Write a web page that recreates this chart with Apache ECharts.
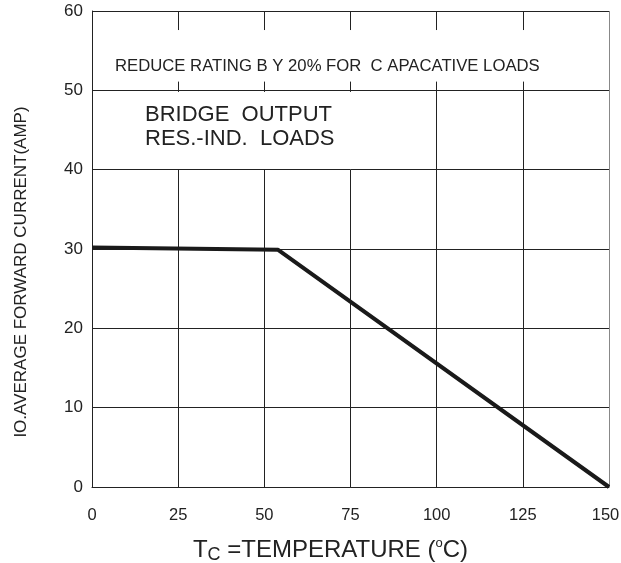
<!DOCTYPE html>
<html>
<head>
<meta charset="utf-8">
<script src="https://cdn.jsdelivr.net/npm/echarts@6/dist/echarts.min.js"></script>
<style>
  html, body { margin: 0; padding: 0; background: #fff; }
  #chart { width: 621px; height: 563px; }
</style>
</head>
<body>
<div id="chart"></div>
<script>
// derating curve
const tempC = [0, 54, 150];
const currentA = [30.2, 29.9, 0];

// x ticks / y ticks
const xTicks = [0, 25, 50, 75, 100, 125, 150];
const yTicks = [0, 10, 20, 30, 40, 50, 60];

// vertical grid pieces (gaps where the notes sit)
const gridShortX = [25, 50, 75];
const gridShortSpans = [[0, 40], [49.8, 51.1], [57.6, 60]];
const gridLongX = [100, 125];
const gridLongSpans = [[0, 51.1], [57.6, 60]];

const chart = echarts.init(document.getElementById('chart'));

function vSegs(xs, spans) {
  const out = [];
  xs.forEach(x => spans.forEach(s => {
    out.push([{ coord: [x, s[0]] }, { coord: [x, s[1]] }]);
  }));
  return out;
}
const gridSegs = vSegs(gridShortX, gridShortSpans).concat(vSegs(gridLongX, gridLongSpans));

const FONT = 'Liberation Sans, Arial, sans-serif';
const xMax = xTicks[xTicks.length - 1];

chart.setOption({
  animation: false,
  backgroundColor: '#fff',
  grid: { left: 92, right: 12, top: 11, bottom: 76, outerBoundsMode: 'none' },
  xAxis: {
    type: 'value',
    min: xTicks[0],
    max: xMax,
    interval: 25,
    axisLine: { show: true, lineStyle: { color: '#222', width: 1 } },
    axisTick: { show: false },
    splitLine: { show: false },
    axisLabel: {
      color: '#222', fontSize: 16.5, fontFamily: FONT, margin: 20,
      formatter: v => v === xMax ? '{last|' + v + '}' : String(v),
      rich: { last: { fontSize: 16.5, fontFamily: FONT, color: '#222', padding: [0, 7, 0, 0] } }
    },
    name: '{t|T}{sub|C}{t| =TEMPERATURE (}{sup|o}{t|C)}',
    nameLocation: 'middle',
    nameGap: 50,
    nameTextStyle: {
      fontFamily: FONT,
      padding: [0, 40, 0, 0],
      rich: {
        t: { fontSize: 24, color: '#222', fontFamily: FONT },
        sub: { fontSize: 18, color: '#222', fontFamily: FONT, verticalAlign: 'bottom', padding: [9, 0, 0, 0] },
        sup: { fontSize: 13, color: '#222', fontFamily: FONT, verticalAlign: 'top', padding: [0, 0, 8, 0] }
      }
    }
  },
  yAxis: {
    type: 'value',
    min: yTicks[0],
    max: yTicks[yTicks.length - 1],
    interval: 10,
    axisLine: { show: true, lineStyle: { color: '#222', width: 1 } },
    axisTick: { show: false },
    splitLine: { show: true, lineStyle: { color: '#222', width: 1 } },
    axisLabel: { color: '#222', fontSize: 17, fontFamily: FONT, margin: 9 },
    name: 'IO.AVERAGE FORWARD CURRENT(AMP)',
    nameLocation: 'middle',
    nameGap: 62,
    nameTextStyle: { color: '#222', fontSize: 17, fontFamily: FONT, padding: [0, 46, 0, 0] }
  },
  graphic: [
    {
      type: 'text', left: 115, top: 57.5,
      style: { text: 'REDUCE RATING B Y 20% FOR  C APACATIVE LOADS', fontSize: 16.7, fontFamily: FONT, fill: '#222' }
    },
    {
      type: 'text', left: 145, top: 103.5,
      style: { text: 'BRIDGE  OUTPUT\nRES.-IND.  LOADS', fontSize: 22, lineHeight: 23.5, fontFamily: FONT, fill: '#222' }
    }
  ],
  series: [
    {
      type: 'line',
      data: [],
      silent: true,
      markLine: {
        silent: true,
        symbol: 'none',
        label: { show: false },
        lineStyle: { color: '#222', width: 1, type: 'solid' },
        data: gridSegs.concat([
          [{ coord: [150, 0], lineStyle: { color: '#888', width: 1, type: 'solid' } }, { coord: [150, 60] }]
        ])
      }
    },
    {
      type: 'line',
      data: tempC.map((t, i) => [t, currentA[i]]),
      symbol: 'none',
      lineStyle: { color: '#1a1a1a', width: 4 },
      z: 5
    }
  ]
});
</script>
</body>
</html>
